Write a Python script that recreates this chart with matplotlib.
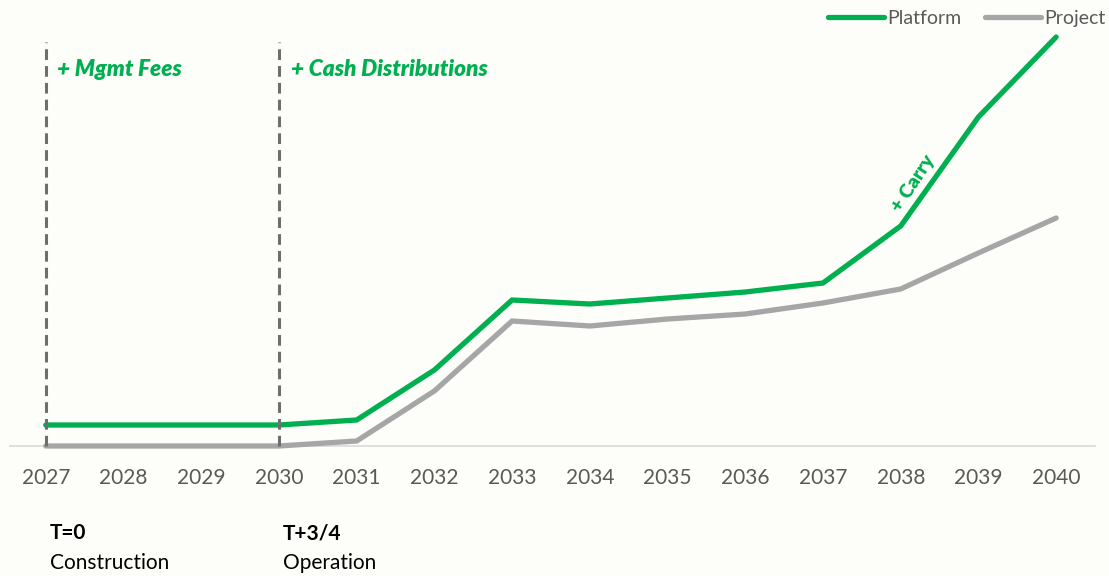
import matplotlib
matplotlib.use("Agg")
import matplotlib.pyplot as plt
import matplotlib.transforms as mtransforms

years = [2027, 2028, 2029, 2030, 2031, 2032, 2033, 2034, 2035, 2036, 2037, 2038, 2039, 2040]
platform = [21, 21, 21, 21, 26, 76, 146, 142, 148, 154, 163, 220, 329, 409]
project = [0, 0, 0, 0, 5, 55, 125, 120, 127, 132, 143, 157, 193, 228]
tick_labels = [str(y) for y in years]
phase_years = [2027, 2030]
phase_titles = ["T=0", "T+3/4"]
phase_names = ["Construction", "Operation"]
phase_notes = ["+ Mgmt Fees", "+ Cash Distributions"]

GREEN = "#00B050"
GRAY = "#A6A6A6"
TXT = "#595959"
BG = "#FDFDFA"

plt.rcParams['font.family'] = ['Lato', 'DejaVu Sans']

fig = plt.figure(figsize=(11.09, 5.76), dpi=100, facecolor=BG)
ax = fig.add_axes([10/1109, (576-446)/576, (1095-10)/1109, 416/576])
ax.set_facecolor(BG)

ax.plot(years, project, color=GRAY, lw=3.8, solid_capstyle='round', solid_joinstyle='miter', label="Project", clip_on=False, zorder=3)
ax.plot(years, platform, color=GREEN, lw=3.8, solid_capstyle='round', solid_joinstyle='miter', label="Platform", clip_on=False, zorder=4)

ax.set_xlim(2026.54, 2040.5)
ax.set_ylim(0, 416)

for sp in ['top', 'right', 'left']:
    ax.spines[sp].set_visible(False)
ax.spines['bottom'].set_color('#D9D9D9')
ax.spines['bottom'].set_linewidth(1.2)
ax.spines['bottom'].set_zorder(1)

ax.set_xticks(years)
ax.set_xticklabels(tick_labels)
ax.tick_params(axis='x', length=0, pad=16, labelsize=15, labelcolor=TXT)
ax.set_yticks([])

for yr in phase_years:
    ax.plot([yr, yr], [0, 404], color='#6E6E6E', lw=2.2, linestyle=(0, (3.5, 2)), zorder=5, clip_on=False)

for yr, note in zip(phase_years, phase_notes):
    ax.text(yr + 0.15, 376, note, color=GREEN, fontsize=16.3, fontweight='heavy', fontstyle='italic',
            ha='left', va='center')

ax.text(2038.16, 263, "+ Carry", color=GREEN, fontsize=14, fontweight='heavy', rotation=57,
        ha='center', va='center', rotation_mode='anchor')

trans = mtransforms.blended_transform_factory(ax.transData, fig.transFigure)
for yr, t, n in zip(phase_years, phase_titles, phase_names):
    ax.text(yr + 0.05, 1 - 533/576, t, transform=trans, fontsize=15, fontweight='bold',
            color='black', ha='left', va='center')
    ax.text(yr + 0.05, 1 - 563/576, n, transform=trans, fontsize=15,
            color='black', ha='left', va='center')

handles, labels = ax.get_legend_handles_labels()
leg = fig.legend(handles[::-1], labels[::-1], loc='upper right', bbox_to_anchor=(1109/1109, 1.0 - 6/576),
                 ncol=2, frameon=False, fontsize=14, handlelength=2.9, handletextpad=0.15,
                 columnspacing=1.2, borderpad=0.2, borderaxespad=0)
for txt in leg.get_texts():
    txt.set_color(TXT)

fig.savefig("out.png", dpi=100, facecolor=BG)
